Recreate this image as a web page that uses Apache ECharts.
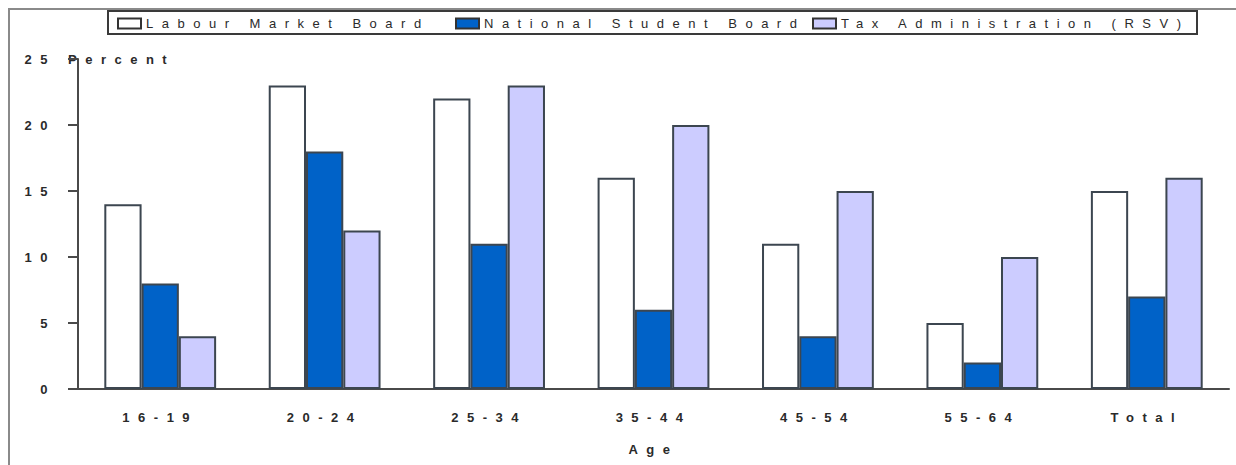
<!DOCTYPE html>
<html>
<head>
<meta charset="utf-8">
<script src="https://cdn.jsdelivr.net/npm/echarts@6/dist/echarts.min.js"></script>
<style>
  html, body { margin: 0; padding: 0; background: #ffffff; }
  #chart { width: 1236px; height: 465px; }
  /* widely tracked lettering used throughout the chart */
  #chart text { letter-spacing: 8.5px; }
</style>
</head>
<body>
<div id="chart"></div>
<script>
// Age groups on the category axis
const ageGroups = ['16-19', '20-24', '25-34', '35-44', '45-54', '55-64', 'Total'];

// Share in percent, per register
const labourMarketBoard = [14, 23, 22, 16, 11, 5, 15];
const nationalStudentBoard = [8, 18, 11, 6, 4, 2, 7];
const taxAdministration = [4, 12, 23, 20, 15, 10, 16];

const seriesNames = ['Labour Market Board', 'National Student Board', 'Tax Administration (RSV)'];
const seriesValues = [labourMarketBoard, nationalStudentBoard, taxAdministration];
const seriesColors = ['#ffffff', '#0062c8', '#ccccff'];

// Value axis range and step
const yMin = 0;
const yMax = 25;
const yStep = 5;

const FONT = "'Liberation Sans', Arial, sans-serif";
const TEXT = '#2a2a2a';
const AXIS = '#4a4a4a';
const EDGE = '#3c4650';

// one legend block per series, each starting at its own slot inside the shared frame
const legendSlots = [117, 455, 812];

const chart = echarts.init(document.getElementById('chart'), null, { renderer: 'svg' });

chart.setOption({
  backgroundColor: '#ffffff',
  animation: false,
  graphic: [
    {
      type: 'polyline',
      shape: { points: [[9, 465], [9, 9], [1236, 9]] },
      style: { stroke: '#8a8a8a', lineWidth: 2, fill: null },
      z: -1
    },
    {
      type: 'rect',
      shape: { x: 108, y: 11, width: 1089, height: 23 },
      style: { stroke: '#3a3a3a', lineWidth: 2, fill: '#ffffff' },
      z: -1
    }
  ],
  legend: seriesNames.map((name, i) => ({
    left: legendSlots[i],
    top: 17,
    padding: 0,
    itemWidth: 23,
    itemHeight: 10,
    icon: 'rect',
    itemStyle: { borderColor: '#333333', borderWidth: 2 },
    textStyle: { fontFamily: FONT, fontSize: 13, color: TEXT },
    data: [name]
  })),
  grid: { left: 78, right: 7, top: 59, bottom: 76, containLabel: false },
  xAxis: {
    type: 'category',
    data: ageGroups,
    name: 'Age',
    nameLocation: 'middle',
    nameGap: 54,
    nameTextStyle: { fontFamily: FONT, fontSize: 13, fontWeight: 'bold', color: TEXT },
    axisLine: { lineStyle: { color: AXIS, width: 2 } },
    axisTick: { show: false },
    axisLabel: { fontFamily: FONT, fontSize: 13, fontWeight: 'bold', color: TEXT, margin: 22 },
    splitLine: { show: false }
  },
  yAxis: {
    type: 'value',
    min: yMin,
    max: yMax,
    interval: yStep,
    name: 'Percent',
    nameLocation: 'end',
    nameGap: 0,
    nameMoveOverlap: false,
    nameTextStyle: {
      fontFamily: FONT, fontSize: 13, fontWeight: 'bold', color: TEXT,
      align: 'left', verticalAlign: 'middle', padding: [0, 0, 0, -10]
    },
    axisLine: { show: true, lineStyle: { color: AXIS, width: 2 } },
    axisTick: { show: true, inside: false, length: 10, lineStyle: { color: AXIS, width: 2 } },
    axisLabel: { fontFamily: FONT, fontSize: 13, fontWeight: 'bold', color: TEXT, margin: 22 },
    splitLine: { show: false }
  },
  series: seriesNames.map((name, i) => ({
    name: name,
    type: 'bar',
    data: seriesValues[i],
    barGap: '0%',
    barCategoryGap: '32%',
    itemStyle: { color: seriesColors[i], borderColor: EDGE, borderWidth: 2 }
  }))
});
</script>
</body>
</html>
